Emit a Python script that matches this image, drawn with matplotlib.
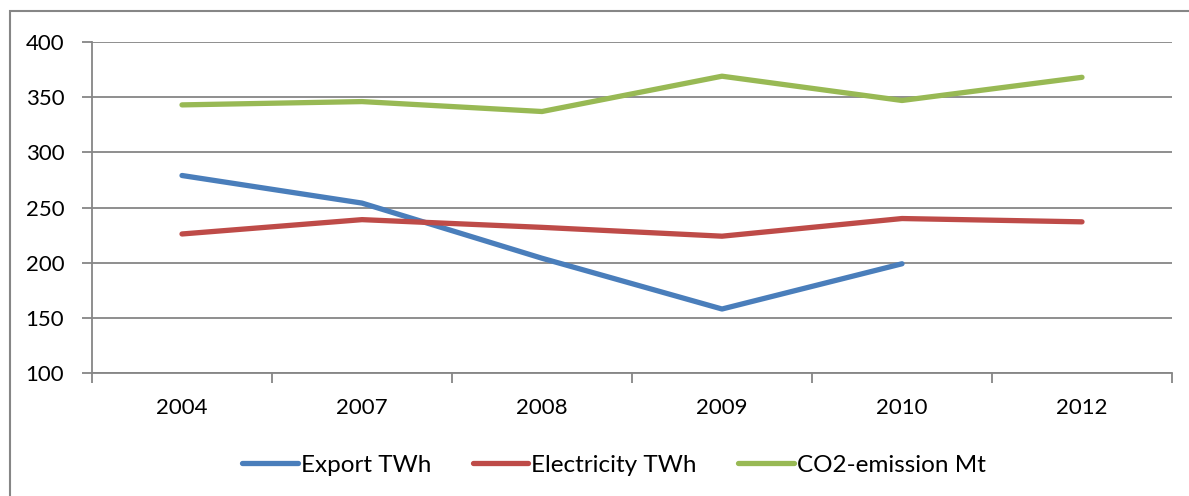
import matplotlib.pyplot as plt
from matplotlib.patches import Rectangle
import numpy as np

years = ["2004", "2007", "2008", "2009", "2010", "2012"]
export_twh = [279, 254, 204, 158, 199, None]
electricity_twh = [226, 239, 232, 224, 240, 237]
co2_mt = [343, 346, 337, 369, 347, 368]

plt.rcParams['font.family'] = ['Lato', 'DejaVu Sans']

fig = plt.figure(figsize=(11.89, 4.96), dpi=100)
# outer chart frame (clipped on right and bottom like the source)
fig.patches.append(Rectangle((10 / 1189, -0.1), 1.2, 1 - 11 / 496 + 0.1,
                             transform=fig.transFigure, fill=False,
                             edgecolor="#868686", linewidth=1.5))

ax = fig.add_axes([92 / 1189, 1 - 373 / 496, 1080 / 1189, 331 / 496])

x = np.arange(len(years))
exp = np.array([np.nan if v is None else v for v in export_twh], dtype=float)
ax.plot(x, exp, color="#4a7ebb", lw=3.8, solid_capstyle="round", label="Export TWh")
ax.plot(x, electricity_twh, color="#be4b48", lw=3.8, solid_capstyle="round", label="Electricity TWh")
ax.plot(x, co2_mt, color="#98b954", lw=3.8, solid_capstyle="round", label="CO2-emission Mt")

ax.set_xlim(-0.5, len(years) - 0.5)
ax.set_ylim(100, 400)
ax.set_yticks(range(100, 401, 50))
ax.yaxis.grid(True, color="#868686", lw=1.3)
ax.set_axisbelow(True)

ax.set_xticks(x)
ax.set_xticklabels(years)
ax.set_xticks(np.arange(-0.5, len(years)), minor=True)
ax.tick_params(axis="x", which="major", length=0, pad=18, labelsize=16)
ax.tick_params(axis="x", which="minor", length=7, width=1.3, color="#868686")
ax.tick_params(axis="y", length=7, width=1.3, color="#868686", pad=13, labelsize=16)

for s in ["top", "right"]:
    ax.spines[s].set_visible(False)
for s in ["left", "bottom"]:
    ax.spines[s].set_color("#868686")
    ax.spines[s].set_linewidth(1.3)

fig.legend(loc="center", bbox_to_anchor=(614 / 1189, 1 - 465 / 496), ncol=3, frameon=False,
           fontsize=17.5, handlelength=2.3, handletextpad=0.12, columnspacing=1.7)

fig.savefig("out.png", dpi=100)
